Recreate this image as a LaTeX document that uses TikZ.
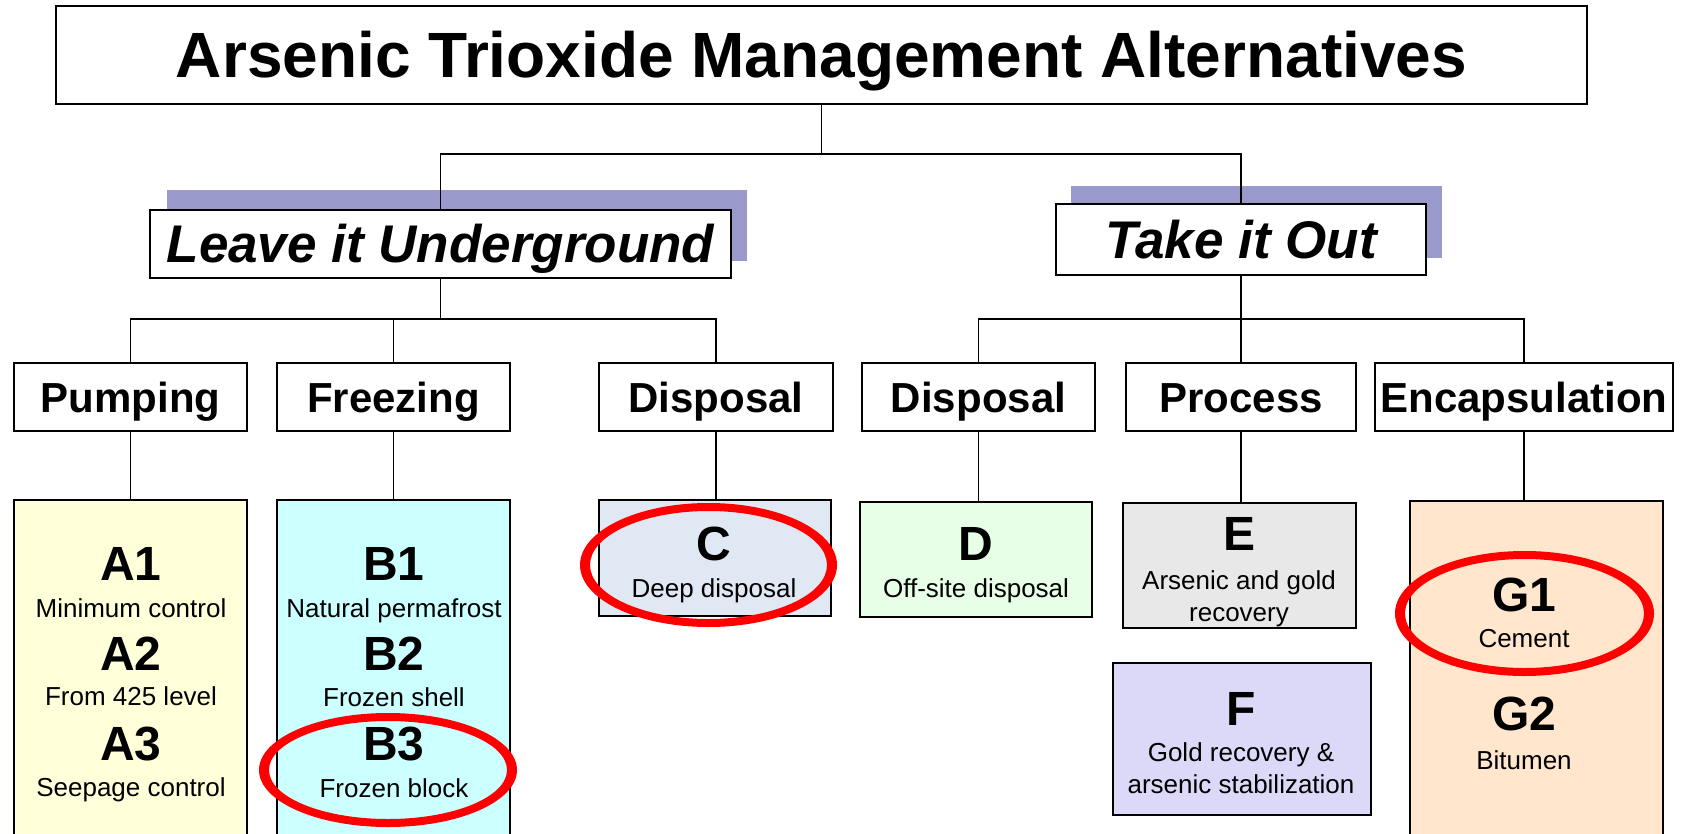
\documentclass[tikz,border=0pt]{standalone}
\usepackage{fontspec}
\setmainfont{Liberation Sans}
\usepackage[HTML]{xcolor}
\usepackage{tikz}
\usetikzlibrary{positioning}

\definecolor{shadowc}{HTML}{9999CC}
\definecolor{afill}{HTML}{FFFFD9}
\definecolor{bfill}{HTML}{CCFFFF}
\definecolor{cfill}{HTML}{E0E8F4}
\definecolor{dfill}{HTML}{E6FFE6}
\definecolor{efill}{HTML}{E8E8E8}
\definecolor{ffill}{HTML}{DCD8F8}
\definecolor{gfill}{HTML}{FFE6CC}
\definecolor{ringred}{HTML}{FF0000}

\begin{document}
\begin{tikzpicture}[x=0.5pt,y=-0.5pt,
  box/.style={draw,line width=0.9pt,fill=white,inner sep=0pt,text depth=0pt},
  lvlone/.style={box,font=\fontsize{32}{38}\selectfont\bfseries,text height=22.9pt},
  lvltwo/.style={box,font=\fontsize{26.5}{32}\selectfont\bfseries\itshape,text height=19pt},
  lvlthree/.style={box,minimum height=34pt,font=\fontsize{21}{25}\selectfont\bfseries,text height=15pt},
  alt/.style={draw,line width=0.9pt,inner sep=0pt},
  lab/.style={anchor=base,inner sep=0pt,font=\fontsize{24}{28}\selectfont\bfseries},
  desc/.style={anchor=base,inner sep=0pt,font=\fontsize{13}{16}\selectfont},
  conn/.style={line width=0.9pt},
  ring/.style={fill=ringred,even odd rule}]

\clip (0,0) rectangle (1685,834);
\fill[white] (0,0) rectangle (1685,834);

% shadows behind the two branches
\fill[shadowc] (167,190) rectangle (747,261);
\fill[shadowc] (1071,186) rectangle (1442,258);

% top and branches
\node[lvlone,minimum width=765.5pt,minimum height=49pt] (title) at (821.5,55) {Arsenic Trioxide Management Alternatives};
\node[lvltwo,minimum width=290.5pt,minimum height=34pt] (lu) at (440.5,244) {Leave it Underground};
\node[lvltwo,minimum width=185pt,minimum height=35.5pt] (to) at (1241,239.5) {Take it Out};

% third level
\node[lvlthree,minimum width=116.5pt] (pump) at (130.5,397) {Pumping};
\node[lvlthree,minimum width=116.5pt] (frz) at (393.5,397) {Freezing};
\node[lvlthree,minimum width=117pt] (disp1) at (716,397) {Disposal};
\node[lvlthree,minimum width=116.5pt] (disp2) at (978.5,397) {Disposal};
\node[lvlthree,minimum width=115pt] (proc) at (1241,397) {Process};
\node[lvlthree,minimum width=149pt] (enc) at (1524,397) {Encapsulation};

% alternatives
\node[alt,fill=afill,minimum width=116.5pt,minimum height=175pt] (abox) at (130.5,675) {};
\node[alt,fill=bfill,minimum width=116.5pt,minimum height=175pt] (bbox) at (393.5,675) {};
\node[alt,fill=cfill,minimum width=116pt,minimum height=58pt] (cbox) at (715,558) {};
\node[alt,fill=dfill,minimum width=116pt,minimum height=57.5pt] (dbox) at (976,559.5) {};
\node[alt,fill=efill,minimum width=116.5pt,minimum height=62.5pt] (ebox) at (1239.5,565.5) {};
\node[alt,fill=ffill,minimum width=129pt,minimum height=76pt] (fbox) at (1242,739) {};
\node[alt,fill=gfill,minimum width=126.5pt,minimum height=174.5pt] (gbox) at (1536.5,675.5) {};

\foreach \n/\x/\y/\t in {la1/131/580/A1, la2/131/670/A2, la3/131/760/A3,
  lb1/394/580/B1, lb2/394/670/B2, lb3/394/760/B3, lc/714/560/C, ld/976/560/D,
  le/1239/550/E, lf/1241/725/F, lg1/1524/611/G1, lg2/1524/730/G2}
  \node[lab] (\n) at (\x,\y) {\t};

\foreach \n/\x/\y/\t in {da1/131/617/Minimum control, da2/131/705/From 425 level,
  da3/131/796/Seepage control, db1/394/617/Natural permafrost, db2/394/706/Frozen shell,
  db3/394/797/Frozen block, dc/714/597/Deep disposal, dd/976/597/Off-site disposal,
  de1/1239/589/Arsenic and gold, de2/1239/621/recovery, df1/1241/761/Gold recovery \&,
  df2/1241/793/arsenic stabilization, dg1/1524/647/Cement, dg2/1524/769/Bitumen}
  \node[desc] (\n) at (\x,\y) {\t};

% connectors
\coordinate (j1) at (821.5,154);
\draw[conn] (title.south) -- (j1) -| (lu.north);
\draw[conn] (j1) -| (to.north);
\coordinate (j2) at (440.5,319);
\draw[conn] (lu.south) -- (j2);
\draw[conn] (pump.north) |- (j2) -| (disp1.north);
\draw[conn] (frz.north) -- (frz.north |- j2);
\coordinate (j3) at (1241,319);
\draw[conn] (to.south) -- (j3);
\draw[conn] (disp2.north) |- (j3) -| (enc.north);
\draw[conn] (proc.north) -- (j3);
\foreach \u/\l in {pump/abox, frz/bbox, disp1/cbox, disp2/dbox, proc/ebox, enc/gbox}
  \draw[conn] (\u.south) -- (\u.south |- \l.north);

% chosen alternatives
\fill[ring] (708.5,565) ellipse [x radius=64.25pt, y radius=31pt]
  (708.5,565) ellipse [x radius=59.25pt, y radius=27pt];
\fill[ring] (388,770) ellipse [x radius=64.5pt, y radius=28.5pt]
  (388,770) ellipse [x radius=59.5pt, y radius=24.5pt];
\fill[ring] (1524.5,613.5) ellipse [x radius=64.75pt, y radius=31.25pt]
  (1524.5,613.5) ellipse [x radius=59.75pt, y radius=27.25pt];
\end{tikzpicture}
\end{document}
